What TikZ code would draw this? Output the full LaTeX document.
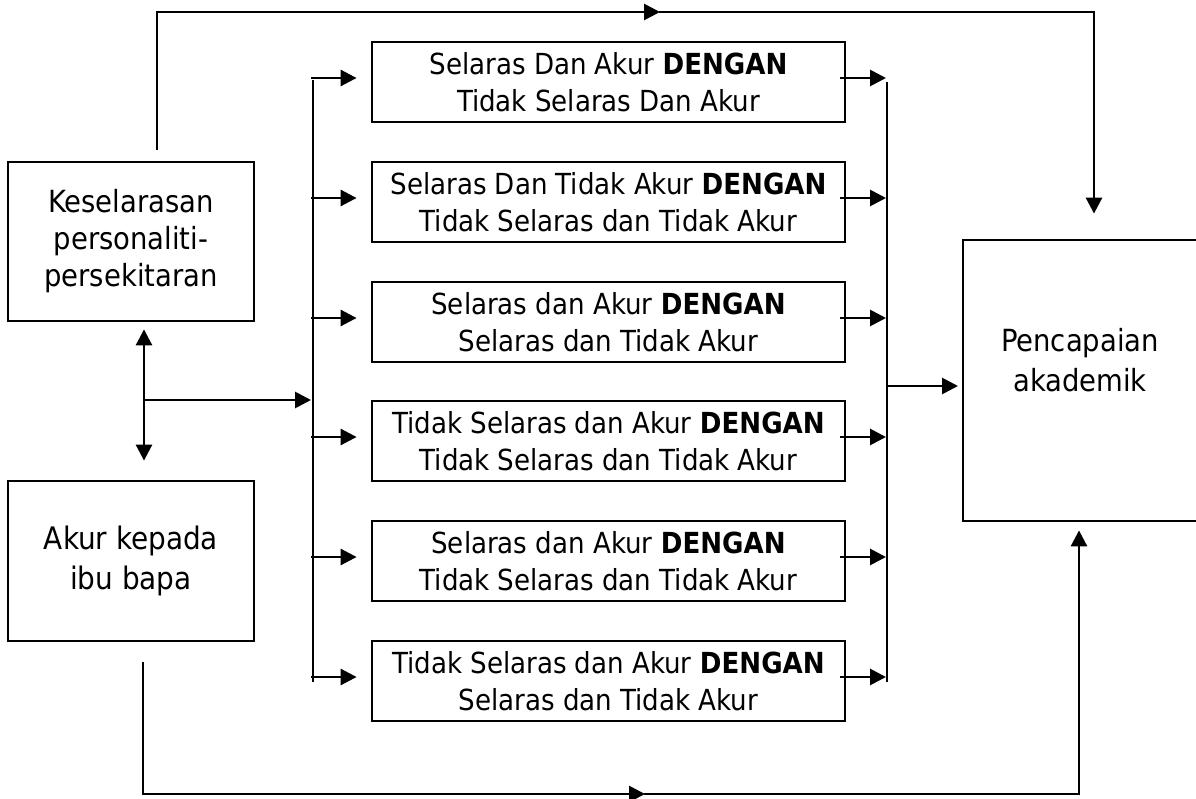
\documentclass[tikz,border=0pt]{standalone}
\usepackage{fontspec}
\setmainfont{DejaVu Sans Condensed}
\usetikzlibrary{arrows.meta}

\tikzset{
  sidebox/.style={draw, line width=2.8pt, align=center, inner sep=0pt,
    minimum width=246pt, minimum height=159pt, font=\fontsize{30.5}{37}\selectfont},
  pairbox/.style={draw, line width=2.8pt, align=center, inner sep=0pt,
    minimum width=473pt, minimum height=80pt, font=\fontsize{29}{37}\selectfont},
  link/.style={line width=2.8pt},
  thin link/.style={line width=1.8pt, line cap=rect},
  arr/.style={line width=2.8pt, -{Triangle[length=16pt,width=16pt]}},
}

\begin{document}
\begin{tikzpicture}[x=1pt,y=-1pt]
  \useasboundingbox (0,0) rectangle (1196,799);
  %
  \node[sidebox] (kes) at (131,241.5) {Keselarasan\\personaliti-\\persekitaran};
  \node[sidebox, minimum height=160pt, font=\fontsize{31}{40}\selectfont] (akur) at (131,561) {Akur kepada\\ibu bapa};
  \node[draw, line width=2.8pt, minimum width=237pt, minimum height=281pt] (capai) at (1081.5,380.5) {};
  \node[align=center, font=\fontsize{30.5}{40}\selectfont] (capaitxt) at (1080,360) {Pencapaian\\akademik};

  % six comparison boxes
  \foreach \i/\yy/\txt in {
    1/82/{Selaras Dan Akur \textbf{DENGAN}\\Tidak Selaras Dan Akur},
    2/202/{Selaras Dan Tidak Akur \textbf{DENGAN}\\Tidak Selaras dan Tidak Akur},
    3/322/{Selaras dan Akur \textbf{DENGAN}\\Selaras dan Tidak Akur},
    4/441/{Tidak Selaras dan Akur \textbf{DENGAN}\\Tidak Selaras dan Tidak Akur},
    5/561/{Selaras dan Akur \textbf{DENGAN}\\Tidak Selaras dan Tidak Akur},
    6/681/{Tidak Selaras dan Akur \textbf{DENGAN}\\Selaras dan Tidak Akur}}
  {
    \node[pairbox] (m\i) at (608.5,\yy) {\txt};
  }

  % buses
  \coordinate (lbtop) at (313,80);
  \coordinate (lbbot) at (313,682);
  \coordinate (rbtop) at (887,82);
  \coordinate (rbbot) at (887,682);
  \coordinate (lbx) at (311,0);
  \coordinate (rbx) at (886,0);
  \draw[link] (lbtop) -- (lbbot);
  \draw[link] (rbtop) -- (rbbot);
  \foreach \i in {1,...,6}
  {
    \draw[arr] ([yshift=4pt]m\i.west -| lbx) -- ([xshift=-14pt,yshift=4pt]m\i.west);
    \draw[arr] ([xshift=-6pt,yshift=4pt]m\i.east) -- ([yshift=4pt]m\i.east -| rbx);
  }

  % between the two side boxes
  \coordinate (dj) at (144,400);
  \draw[arr] (dj) -- ([yshift=-7pt]kes.south -| dj);
  \draw[arr] (dj) -- ([yshift=19pt]akur.north -| dj);
  \draw[arr] (dj) -- (dj -| lbx);

  % into Pencapaian
  \coordinate (rj) at (887,386);
  \coordinate (cpx) at (958,0);
  \draw[arr] (rj) -- (rj -| cpx);

  % top route
  \coordinate (tl) at (157,12);
  \coordinate (tm) at (660,12);
  \coordinate (tr) at (1094,12);
  \draw[arr] ([yshift=11pt]kes.north -| tl) -- (tl) -- (tm);
  \draw[thin link] (tm) -- (tr);
  \draw[arr] (tr) -- ([yshift=25pt]capai.north -| tr);

  % bottom route
  \coordinate (bl) at (143,794);
  \coordinate (bm) at (645,794);
  \coordinate (br) at (1079,794);
  \draw[arr] ([yshift=-20pt]akur.south -| bl) -- (bl) -- (bm);
  \draw[thin link] (bm) -- (br);
  \draw[arr] (br) -- ([yshift=-8pt]capai.south -| br);
\end{tikzpicture}
\end{document}
